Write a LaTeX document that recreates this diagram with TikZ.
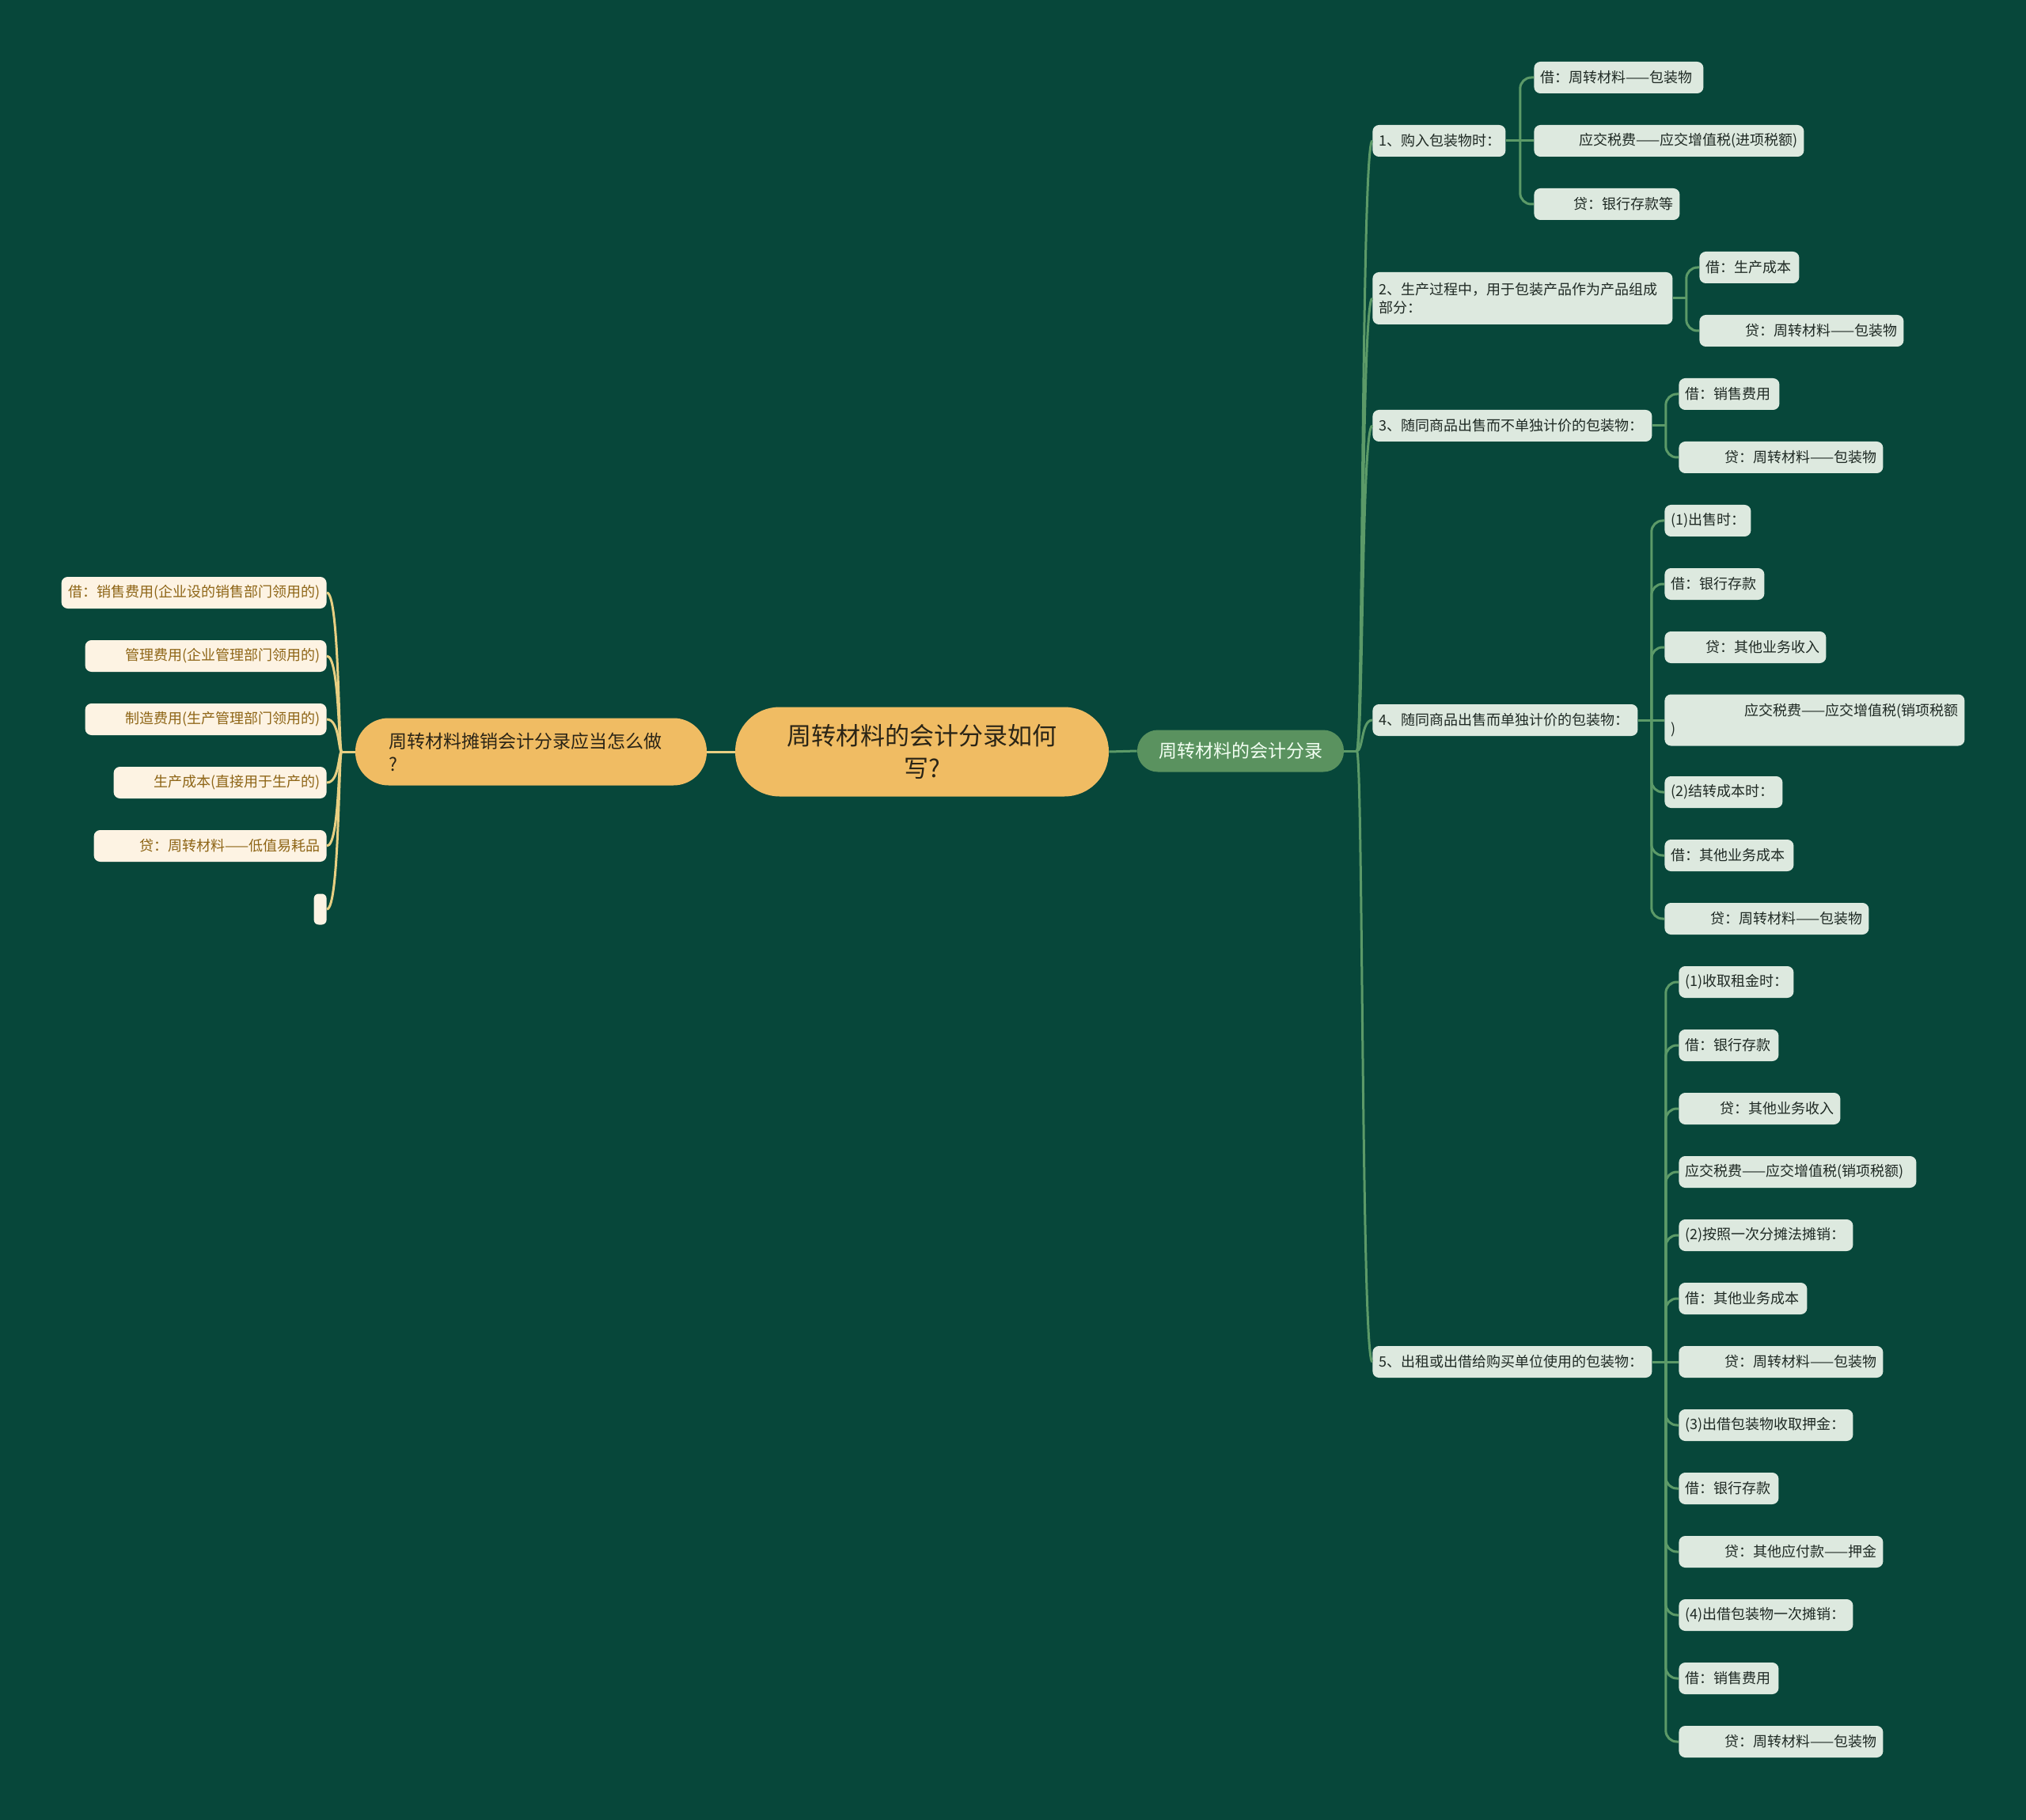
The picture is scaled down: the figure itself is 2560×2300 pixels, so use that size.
\documentclass[tikz,border=0pt]{standalone}
\usepackage{fontspec}
\setmainfont{Noto Sans CJK SC}
\usetikzlibrary{calc}
\definecolor{bg}{HTML}{07473A}
\definecolor{gline}{HTML}{5C9A68}
\definecolor{lfill}{HTML}{DDE9DF}
\definecolor{ltext}{HTML}{1F2A24}
\definecolor{gmain}{HTML}{5A925F}
\definecolor{orng}{HTML}{F0BC63}
\definecolor{cream}{HTML}{FDF3E3}
\definecolor{ctext}{HTML}{8E6516}
\definecolor{yline}{HTML}{E8CF82}
\definecolor{dtext}{HTML}{2A2416}
\tikzset{
  leaf/.style={fill=lfill, text=ltext, rounded corners=4pt, inner xsep=4pt, inner ysep=0pt,
    minimum height=20pt, anchor=west, font=\fontsize{9}{11.5}\selectfont},
  lleaf/.style={fill=cream, text=ctext, rounded corners=4pt, inner xsep=4pt, inner ysep=0pt,
    minimum height=20pt, anchor=east, align=right, font=\fontsize{9}{11.5}\selectfont},
  gl/.style={draw=gline, line width=1.5pt},
  yl/.style={draw=yline, line width=1.5pt},
  gel/.style={gl, rounded corners=7pt},
  rootnode/.style={fill=orng, text=dtext, rounded corners=28pt, minimum width=236pt,
    minimum height=56.5pt, align=center, inner sep=0pt, font=\fontsize{15.5}{20.5}\selectfont},
  lmain/.style={fill=orng, text=dtext, rounded corners=21pt, inner xsep=21pt, inner ysep=0pt,
    text width=180pt, minimum height=42.5pt, align=left, font=\fontsize{11.5}{14.5}\selectfont},
  rmain/.style={fill=gmain, text=white!95!green, rounded corners=13pt, minimum width=130.5pt,
    minimum height=26.5pt, inner sep=0pt, font=\fontsize{11.5}{14.5}\selectfont},
}
\begin{document}
\begin{tikzpicture}[x=0.5pt,y=-0.5pt]
\fill[bg] (0,0) rectangle (2560,2300);
\path[use as bounding box] (0,0) rectangle (2560,2300);

% central nodes
\node[rootnode] (root) at (1165,950) {周转材料的会计分录如何\\写?};
\node[lmain] (lm) at (671,950) {周转材料摊销会计分录应当怎么做\\?};
\node[rmain] (rm) at (1567.5,949) {周转材料的会计分录};

% level 2 right
\node[leaf, text width=76pt, align=left] (n1) at (1734,178) {1、购入包装物时：};
\node[leaf, text width=181.5pt, align=left, minimum height=33pt] (n2) at (1734,377) {2、生产过程中，用于包装产品作为产品组成\\部分：};
\node[leaf, text width=168.5pt, align=left] (n3) at (1734,538) {3、随同商品出售而不单独计价的包装物：};
\node[leaf, text width=159.5pt, align=left] (n4) at (1734,910) {4、随同商品出售而单独计价的包装物：};
\node[leaf, text width=168.5pt, align=left] (n5) at (1734,1721) {5、出租或出借给购买单位使用的包装物：};

% children of n1
\node[leaf, text width=99pt, align=left] (c11) at (1938,98) {借：周转材料——包装物};
\node[leaf, text width=162.5pt, align=right] (c12) at (1938,178) {应交税费——应交增值税(进项税额)};
\node[leaf, text width=84pt, align=right] (c13) at (1938,258) {贷：银行存款等};
% children of n2
\node[leaf, text width=55pt, align=left] (c21) at (2147,338) {借：生产成本};
\node[leaf, text width=121pt, align=right] (c22) at (2147,418) {贷：周转材料——包装物};
% children of n3
\node[leaf, text width=55.5pt, align=left] (c31) at (2121,498) {借：销售费用};
\node[leaf, text width=121pt, align=right] (c32) at (2121,578) {贷：周转材料——包装物};
% children of n4
\node[leaf, text width=46.5pt, align=left] (c41) at (2103,658) {(1)出售时：};
\node[leaf, text width=55pt, align=left] (c42) at (2103,738) {借：银行存款};
\node[leaf, text width=94pt, align=right] (c43) at (2103,818) {贷：其他业务收入};
\node[leaf, text width=181.5pt, align=left, minimum height=32.5pt] (c44) at (2103,910) {\hspace*{\fill}应交税费——应交增值税(销项税额\\)};
\node[leaf, text width=66.5pt, align=left] (c45) at (2103,1001) {(2)结转成本时：};
\node[leaf, text width=73.5pt, align=left] (c46) at (2103,1081) {借：其他业务成本};
\node[leaf, text width=121pt, align=right] (c47) at (2103,1161) {贷：周转材料——包装物};
% children of n5
\node[leaf, text width=64.5pt, align=left] (c51) at (2121,1241) {(1)收取租金时：};
\node[leaf, text width=55pt, align=left] (c52) at (2121,1321) {借：银行存款};
\node[leaf, text width=94pt, align=right] (c53) at (2121,1401) {贷：其他业务收入};
\node[leaf, text width=142pt, align=left] (c54) at (2121,1481) {应交税费——应交增值税(销项税额)};
\node[leaf, text width=102pt, align=left] (c55) at (2121,1561) {(2)按照一次分摊法摊销：};
\node[leaf, text width=73pt, align=left] (c56) at (2121,1641) {借：其他业务成本};
\node[leaf, text width=121pt, align=right] (c57) at (2121,1721) {贷：周转材料——包装物};
\node[leaf, text width=102pt, align=left] (c58) at (2121,1801) {(3)出借包装物收取押金：};
\node[leaf, text width=55pt, align=left] (c59) at (2121,1881) {借：银行存款};
\node[leaf, text width=121pt, align=right] (c510) at (2121,1961) {贷：其他应付款——押金};
\node[leaf, text width=102pt, align=left] (c511) at (2121,2041) {(4)出借包装物一次摊销：};
\node[leaf, text width=55pt, align=left] (c512) at (2121,2121) {借：销售费用};
\node[leaf, text width=121pt, align=right] (c513) at (2121,2201) {贷：周转材料——包装物};

% left children
\node[lleaf, text width=159.5pt] (l1) at (413,749) {借：销售费用(企业设的销售部门领用的)};
\node[lleaf, text width=144.5pt] (l2) at (413,829) {管理费用(企业管理部门领用的)};
\node[lleaf, text width=144.5pt] (l3) at (413,909) {制造费用(生产管理部门领用的)};
\node[lleaf, text width=126.5pt] (l4) at (413,989) {生产成本(直接用于生产的)};
\node[lleaf, text width=139pt] (l5) at (413,1069) {贷：周转材料——低值易耗品};
\node[fill=cream, rounded corners=3pt, inner sep=0pt, minimum width=8pt, minimum height=19.5pt, anchor=east] (l6) at (413,1149) {};

% central connectors
\draw[yl] (root.west) -- (lm.east);
\draw[gl] (root.east) -- (rm.west);

% root-right fan
\draw[gl] (rm.east) -- ++(16,0) coordinate (sR);
\foreach \n in {n1,n2,n3,n4,n5}
  \draw[gl] (sR) .. controls +(8,0) and +(-14,0) .. (\n.west);

% left fan
\draw[yl] (lm.west) -- ++(-17,0) coordinate (sL);
\foreach \n in {l1,l2,l3,l4,l5,l6}
  \draw[yl] (sL) .. controls +(-4,0) and +(16,0) .. (\n.east);

% n1 children
\draw[gl] (n1.east) -- ++(18,0) coordinate (s1);
\draw[gel] (s1) |- (c11.west);
\draw[gl] (s1) -- (c12.west);
\draw[gel] (s1) |- (c13.west);
% n2 children
\draw[gl] (n2.east) -- ++(17,0) coordinate (s2);
\draw[gel] (s2) |- (c21.west);
\draw[gel] (s2) |- (c22.west);
% n3 children
\draw[gl] (n3.east) -- ++(17,0) coordinate (s3);
\draw[gel] (s3) |- (c31.west);
\draw[gel] (s3) |- (c32.west);
% n4 children
\draw[gl] (n4.east) -- ++(17,0) coordinate (s4);
\foreach \c in {c41,c42,c43,c45,c46,c47}
  \draw[gel] (s4) |- (\c.west);
\draw[gl] (s4) -- (c44.west);
% n5 children
\draw[gl] (n5.east) -- ++(17,0) coordinate (s5);
\foreach \c in {c51,c52,c53,c54,c55,c56,c58,c59,c510,c511,c512,c513}
  \draw[gel] (s5) |- (\c.west);
\draw[gl] (s5) -- (c57.west);
\end{tikzpicture}
\end{document}
